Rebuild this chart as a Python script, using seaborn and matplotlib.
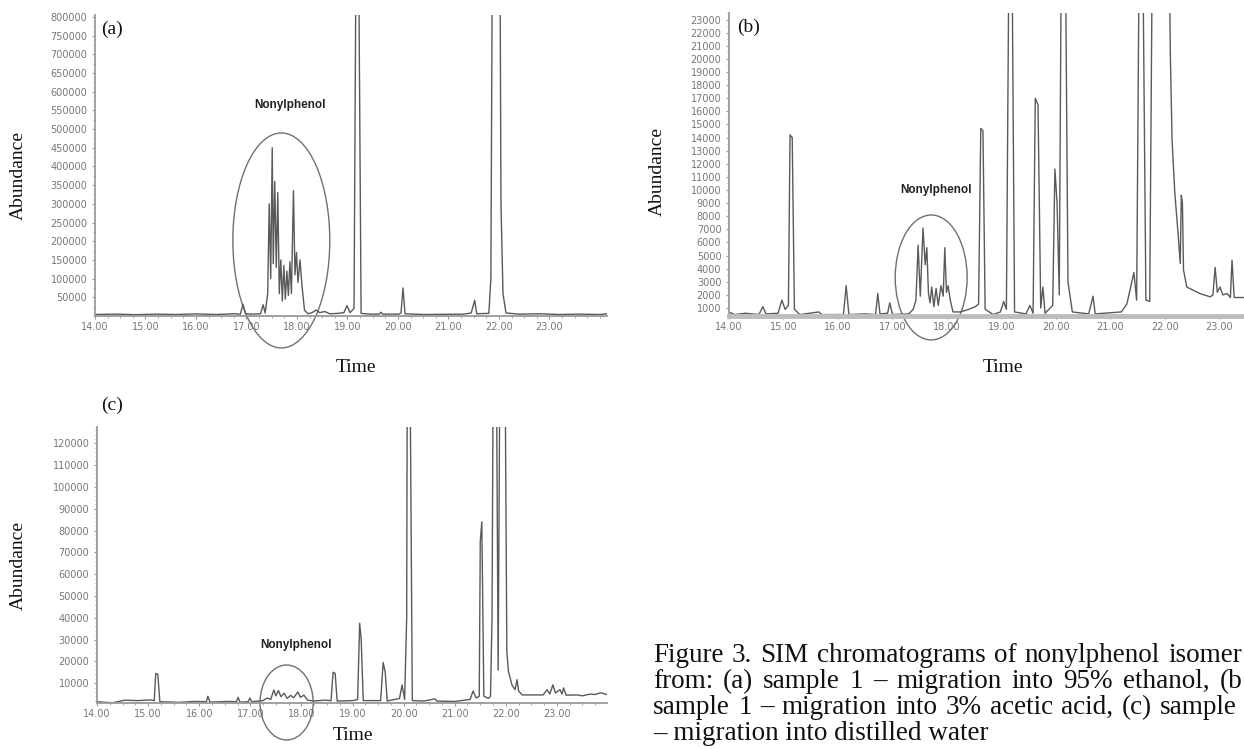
import matplotlib
matplotlib.use("Agg")
import matplotlib.pyplot as plt
from matplotlib.patches import Ellipse
from matplotlib.ticker import FixedLocator, MultipleLocator
import seaborn as sns

# ---- data (time in min, abundance) ----
a_time = [14.00, 14.40, 14.80, 15.20, 15.60, 16.00, 16.40, 16.75, 16.88, 16.93, 16.98, 17.10,
          17.28, 17.33, 17.37, 17.42, 17.45, 17.48, 17.51, 17.53, 17.56, 17.59, 17.62, 17.65,
          17.68, 17.71, 17.74, 17.77, 17.80, 17.83, 17.86, 17.89, 17.93, 17.96, 17.99, 18.02,
          18.06, 18.10, 18.15, 18.22, 18.30, 18.38, 18.45, 18.55, 18.65, 18.80, 18.93, 18.99,
          19.05, 19.13, 19.17, 19.22, 19.27, 19.45, 19.63, 19.66, 19.70, 20.02, 20.06, 20.10,
          20.14, 20.50, 20.90, 21.30, 21.45, 21.52, 21.56, 21.80, 21.84, 21.87, 22.02, 22.04,
          22.08, 22.14, 22.40, 22.80, 23.20, 23.60, 24.00, 24.14]
a_abund = [4000, 5000, 3500, 5000, 4000, 5500, 4000, 6000, 5000, 32000, 6000, 5000,
           6000, 30000, 8000, 60000, 300000, 100000, 450000, 140000, 360000, 130000, 330000, 60000,
           150000, 40000, 135000, 45000, 120000, 55000, 145000, 60000, 335000, 110000, 170000, 90000,
           150000, 80000, 15000, 6000, 9000, 16000, 9000, 12000, 6000, 7000, 9000, 28000,
           9000, 20000, 1000000, 1000000, 7000, 5000, 5000, 10000, 5000, 5000, 8000, 75000,
           6000, 4000, 4500, 5000, 8000, 42000, 6000, 7000, 100000, 1000000, 1000000, 300000,
           60000, 8000, 5000, 6000, 4000, 5000, 4000, 6000]

b_time = [14.00, 14.10, 14.30, 14.55, 14.62, 14.68, 14.90, 14.97, 15.03, 15.09, 15.12, 15.16,
          15.20, 15.30, 15.65, 15.70, 16.10, 16.15, 16.20, 16.50, 16.69, 16.73, 16.77, 16.91,
          16.95, 17.00, 17.30, 17.38, 17.43, 17.47, 17.51, 17.56, 17.60, 17.63, 17.66, 17.69,
          17.72, 17.76, 17.80, 17.84, 17.89, 17.93, 17.96, 17.99, 18.02, 18.06, 18.11, 18.25,
          18.40, 18.52, 18.58, 18.62, 18.66, 18.70, 18.85, 18.98, 19.04, 19.09, 19.14, 19.19,
          19.24, 19.45, 19.52, 19.58, 19.62, 19.67, 19.72, 19.76, 19.80, 19.94, 19.98, 20.02,
          20.06, 20.10, 20.17, 20.22, 20.30, 20.60, 20.68, 20.72, 21.20, 21.30, 21.36, 21.43,
          21.48, 21.53, 21.59, 21.65, 21.72, 21.77, 22.07, 22.10, 22.13, 22.18, 22.24, 22.28,
          22.30, 22.32, 22.34, 22.40, 22.64, 22.83, 22.88, 22.92, 22.96, 23.01, 23.06, 23.14,
          23.20, 23.23, 23.27, 23.45]
b_abund = [700, 500, 600, 500, 1100, 550, 600, 1600, 900, 1200, 14200, 14000,
           900, 500, 700, 500, 500, 2700, 500, 550, 500, 2100, 550, 600,
           1400, 500, 550, 900, 1600, 5800, 1900, 7100, 4300, 5600, 2100, 1400,
           2600, 1100, 2500, 1200, 2700, 1900, 5600, 2200, 2700, 1600, 700, 700,
           900, 1100, 1300, 14700, 14500, 900, 500, 700, 1500, 900, 30000, 30000,
           700, 550, 1200, 600, 17000, 16500, 1000, 2600, 600, 1200, 11600, 9000,
           2000, 30000, 30000, 3000, 700, 550, 1900, 550, 700, 1300, 2400, 3700,
           1600, 30000, 30000, 1600, 1500, 30000, 30000, 20000, 13800, 9800, 6700, 4400,
           9600, 9000, 3900, 2600, 2100, 1850, 2000, 4100, 2200, 2600, 2000, 2100,
           1800, 4650, 1800, 1800]

c_time = [14.00, 14.30, 14.55, 14.80, 15.05, 15.12, 15.15, 15.19, 15.23, 15.60, 15.90, 16.14,
          16.17, 16.21, 16.55, 16.73, 16.76, 16.80, 16.96, 16.99, 17.03, 17.25, 17.33, 17.40,
          17.46, 17.50, 17.55, 17.60, 17.66, 17.72, 17.79, 17.85, 17.93, 17.98, 18.05, 18.12,
          18.25, 18.45, 18.58, 18.62, 18.66, 18.70, 19.00, 19.10, 19.14, 19.17, 19.21, 19.55,
          19.60, 19.64, 19.68, 19.92, 19.97, 20.02, 20.06, 20.07, 20.13, 20.17, 20.40, 20.61,
          20.65, 21.00, 21.30, 21.36, 21.42, 21.48, 21.50, 21.53, 21.57, 21.66, 21.70, 21.73,
          21.75, 21.82, 21.85, 21.88, 21.99, 22.02, 22.05, 22.12, 22.18, 22.22, 22.25, 22.32,
          22.73, 22.81, 22.86, 22.92, 22.97, 23.06, 23.10, 23.13, 23.18, 23.40, 23.50, 23.65,
          23.75, 23.85, 23.98]
c_abund = [1500, 1000, 2200, 2000, 2300, 2000, 14500, 14000, 1500, 1200, 1600, 1500,
           4000, 1300, 1600, 1500, 3500, 1300, 1500, 3200, 1500, 2000, 3200, 2500,
           6900, 4200, 6600, 3800, 5400, 3000, 4400, 3300, 6000, 3500, 4500, 2200,
           1800, 2200, 2000, 15000, 14500, 1800, 2000, 2500, 37500, 30000, 2000, 2000,
           19500, 15000, 1800, 3000, 9200, 2500, 40000, 140000, 140000, 2000, 1800, 2800,
           1800, 1600, 2500, 6400, 3200, 4000, 75000, 84000, 4000, 3000, 4000, 40000,
           140000, 140000, 16000, 140000, 140000, 24700, 15600, 9200, 7000, 11600, 6400, 4600,
           4600, 7000, 5000, 9200, 5500, 7000, 5000, 7800, 4500, 4600, 4200, 5000,
           4800, 5600, 4800]

x_ticks = [14, 15, 16, 17, 18, 19, 20, 21, 22, 23]
a_yticks = [50000, 100000, 150000, 200000, 250000, 300000, 350000, 400000,
            450000, 500000, 550000, 600000, 650000, 700000, 750000, 800000]
b_yticks = [1000, 2000, 3000, 4000, 5000, 6000, 7000, 8000, 9000, 10000, 11000, 12000,
            13000, 14000, 15000, 16000, 17000, 18000, 19000, 20000, 21000, 22000, 23000]
c_yticks = [10000, 20000, 30000, 40000, 50000, 60000, 70000, 80000, 90000, 100000,
            110000, 120000]

# caption as far as it is visible on the (cropped) page
caption = ["Figure 3. SIM chromatograms of nonylphenol isomer",
           "from: (a) sample 1 \u2013 migration into 95% ethanol, (b",
           "sample 1 \u2013 migration into 3% acetic acid, (c) sample",
           "\u2013 migration into distilled water"]

sns.set_theme(style="white")
plt.rcParams["font.family"] = ["DejaVu Sans"]

W, H = 1244, 749
fig = plt.figure(figsize=(W / 100, H / 100), dpi=100)


def px(x, y):
    return x / W, 1 - y / H


def panel(rect, t, ab, xlim, ylim, yticks, ellipse, label_xy, minor_y):
    ax = fig.add_axes(rect)
    sns.lineplot(x=t, y=ab, ax=ax, color="#5a5a5a", linewidth=1.0, estimator=None, sort=False)
    ax.set_xlim(*xlim)
    ax.set_ylim(*ylim)
    ax.xaxis.set_major_locator(FixedLocator(x_ticks))
    ax.set_xticklabels([f"{v:.2f}" for v in x_ticks])
    ax.xaxis.set_minor_locator(MultipleLocator(0.25))
    ax.yaxis.set_major_locator(FixedLocator(yticks))
    ax.set_yticklabels([str(v) for v in yticks])
    ax.yaxis.set_minor_locator(MultipleLocator(minor_y))
    for s in ["top", "right"]:
        ax.spines[s].set_visible(False)
    for s in ["left", "bottom"]:
        ax.spines[s].set_color("#9a9a9a")
        ax.spines[s].set_linewidth(1.3)
    ax.tick_params(which="major", length=2.5, width=0.8, color="#999999",
                   labelsize=7, labelcolor="#777777", left=True, bottom=True)
    ax.tick_params(which="minor", length=1.5, width=0.7, color="#aaaaaa", left=True, bottom=True)
    ax.tick_params(axis="x", pad=1.5)
    ax.tick_params(axis="y", pad=3)
    ax.set_xlabel("")
    ax.set_ylabel("")
    ax.add_patch(Ellipse(ellipse[0], ellipse[1], ellipse[2], fill=False,
                         edgecolor="#707070", linewidth=1.0, clip_on=False))
    ax.text(label_xy[0], label_xy[1], "Nonylphenol", ha="center", va="center",
            fontsize=8.5, fontweight="bold", family="Liberation Sans", color="#222222")
    return ax


ax_a = panel([95 / W, 1 - 316 / H, 512 / W, 301 / H], a_time, a_abund,
             (14.0, 24.14), (0, 805000), a_yticks,
             ((17.69, 202000), 1.92, 575000), (17.86, 565000), 25000)
ax_b = panel([729 / W, 1 - 316 / H, 515 / W, 303 / H], b_time, b_abund,
             (14.0, 23.45), (390, 23500), b_yticks,
             ((17.71, 3330), 1.32, 9530), (17.80, 10000), 500)
ax_b.spines["bottom"].set_linewidth(3.5)
ax_b.spines["bottom"].set_color("#bdbdbd")
ax_c = panel([97 / W, 1 - 703 / H, 510 / W, 276 / H], c_time, c_abund,
             (14.0, 23.98), (900, 127500), c_yticks,
             ((17.71, 1130), 1.04, 34400), (17.89, 27500), 2000)

serif = "Liberation Serif"
for lab, (x, y) in [("(a)", (112, 29)), ("(b)", (749, 27)), ("(c)", (112, 405))]:
    fig.text(*px(x, y), lab, ha="center", va="center", fontsize=14, family=serif, color="#111111")
for (x, y) in [(18, 175), (657, 172), (18, 565)]:
    fig.text(*px(x, y), "Abundance", ha="center", va="center", rotation=90,
             fontsize=14, family=serif, color="#111111")
for (x, y) in [(356, 368), (1003, 368), (353, 735)]:
    fig.text(*px(x, y), "Time", ha="center", va="center", fontsize=14, family=serif, color="#111111")

# justified caption block (right ends as they sit at the page edge)
renderer = fig.canvas.get_renderer()
col_left = 653
line_right = [1242, 1242, 1237, None]
bases = [662, 688, 714, 740]
for line, base, right in zip(caption, bases, line_right):
    if right is None:
        fig.text(*px(col_left, base), line, ha="left", va="baseline", fontsize=19.5,
                 family=serif, color="#111111")
        continue
    words = line.split(" ")
    texts = [fig.text(0, 0, w, ha="left", va="baseline", fontsize=19.5,
                      family=serif, color="#111111") for w in words]
    widths = [t.get_window_extent(renderer).width for t in texts]
    gap = (right - col_left - sum(widths)) / (len(words) - 1)
    x = col_left
    for t, w in zip(texts, widths):
        t.set_position(px(x, base))
        x += w + gap

fig.savefig("out.png", dpi=100)
